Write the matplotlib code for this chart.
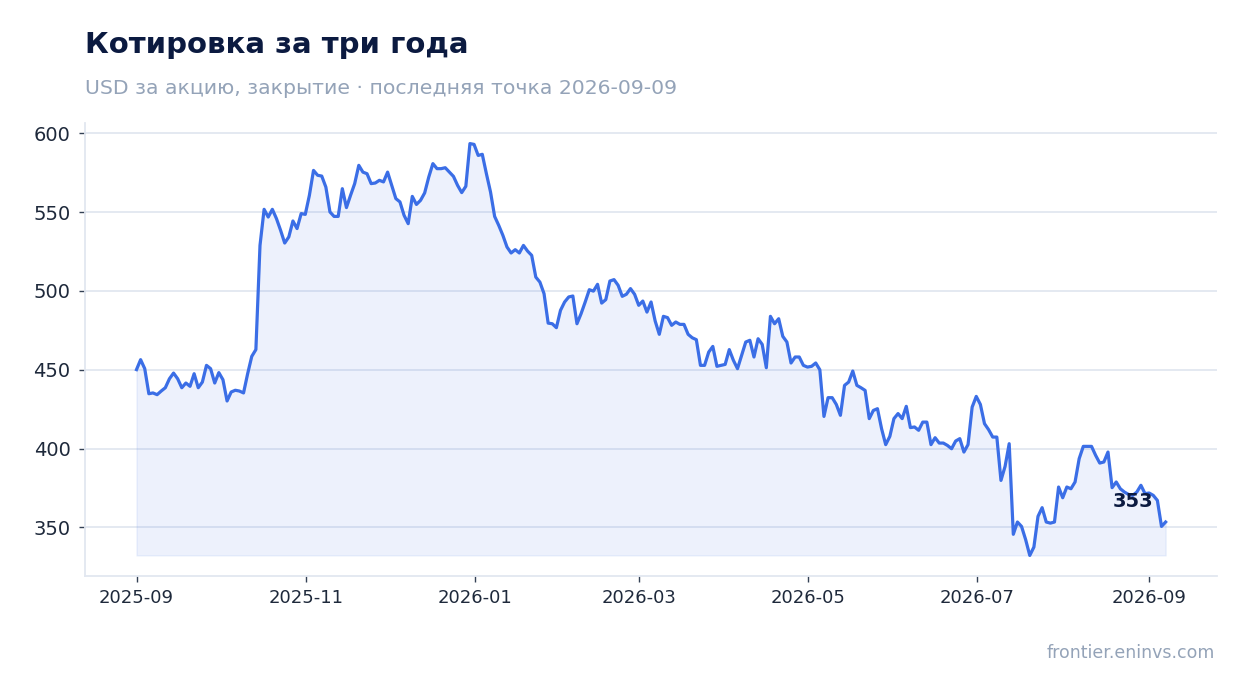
import matplotlib
matplotlib.use("Agg")
import matplotlib.pyplot as plt
import matplotlib.dates as mdates
import pandas as pd
import numpy as np

plt.rcParams['font.family'] = ['DejaVu Sans']

title = "Котировка за три года"
subtitle = "USD за акцию, закрытие · последняя точка 2026-09-09"
footer = "frontier.eninvs.com"

start_date = "2025-09-01"
end_date = "2026-09-07"

prices = [
    450.1, 456.4, 450.7, 434.8, 435.3, 434.2, 436.5, 438.6, 444.3, 447.9,
    444.3, 438.6, 441.6, 439.5, 447.5, 438.6, 442.2, 452.8, 450.7, 441.6,
    448.2, 443.7, 430.2, 435.9, 437.0, 436.5, 435.3, 447.5, 458.5, 462.8,
    528.9, 551.8, 546.9, 551.8, 545.9, 538.5, 530.4, 534.3, 544.4, 539.6,
    549.1, 548.6, 560.7, 576.5, 573.4, 572.9, 565.9, 550.1, 547.3, 547.3,
    564.9, 552.9, 560.7, 568.1, 579.7, 575.4, 574.4, 568.1, 568.5, 570.2,
    569.2, 575.4, 567.0, 558.6, 556.5, 548.0, 542.7, 560.0, 554.9, 557.5,
    562.2, 572.3, 580.8, 577.6, 577.6, 578.2, 575.4, 572.7, 567.0, 562.4,
    566.4, 593.5, 593.0, 586.0, 586.7, 574.4, 562.8, 547.3, 541.6, 535.3,
    527.9, 524.1, 526.2, 524.1, 528.9, 525.3, 522.6, 508.8, 505.6, 498.3,
    479.6, 479.2, 476.7, 487.7, 493.0, 496.2, 496.8, 479.2, 485.6, 493.0,
    500.8, 499.9, 504.2,
    492.3, 494.5, 506.3, 507.2, 503.6, 496.6, 497.9, 501.5, 497.9, 490.9,
    493.6, 486.6, 493.0, 480.9, 472.5, 483.9, 483.1, 478.2, 480.3, 478.8,
    478.8, 472.5, 470.3, 469.1, 452.8, 452.8, 461.2, 464.8, 452.2, 452.8,
    453.4, 462.8, 456.0, 450.7, 459.1, 467.6, 468.7, 458.1, 469.7, 466.1,
    451.3, 483.9, 479.2, 482.4, 471.2, 467.6,
    454.3, 458.1, 458.1, 452.8, 451.7, 452.2, 454.3, 450.0, 420.4, 432.3,
    432.3, 428.0, 421.1, 440.1, 442.2, 449.2, 440.1, 438.6, 436.9, 419.0,
    424.2, 425.3, 412.6, 402.5, 407.7, 419.0, 422.2, 419.0, 426.8, 413.3,
    413.7, 411.6, 416.8, 416.8, 402.5, 406.9, 403.5, 403.5, 402.0, 399.9,
    404.8, 406.3, 397.8, 402.5, 426.3, 433.1, 428.0,
    415.8, 412.0, 407.3, 407.3, 379.8, 388.7, 403.1, 345.6, 353.4, 350.6,
    342.2, 332.2, 337.5, 357.0, 362.5, 353.4, 352.7, 353.4, 375.6, 368.8,
    375.6, 374.5, 378.8, 393.6, 401.4, 401.4, 401.4, 395.7, 390.8, 391.5,
    397.8, 375.2, 378.8, 374.5, 372.4, 370.9, 370.3, 372.4, 376.7, 371.4,
    371.8, 370.3, 367.1, 350.6, 353.4,
]

dates = pd.date_range(start_date, end_date, periods=len(prices))
values = np.array(prices)

line_color = "#3b6ee6"
navy = "#0b1a40"
gray = "#94a3b8"
grid_color = "#e2e7f0"

fig = plt.figure(figsize=(12.47, 6.93), dpi=100)
ax = fig.add_axes([0.0682, 0.1688, 0.9078, 0.6537])

ax.fill_between(dates, values, values.min(), color=line_color, alpha=0.09, linewidth=1)
ax.plot(dates, values, color=line_color, linewidth=2.3, solid_joinstyle='round')

ax.xaxis.set_major_locator(mdates.MonthLocator(bymonth=[1, 3, 5, 7, 9, 11]))
ax.xaxis.set_major_formatter(mdates.DateFormatter("%Y-%m"))
ax.set_yticks([350, 400, 450, 500, 550, 600])

ax.grid(axis='y', color=grid_color, linewidth=1.3)
ax.set_axisbelow(True)
for side in ['top', 'right']:
    ax.spines[side].set_visible(False)
for side in ['left', 'bottom']:
    ax.spines[side].set_color(grid_color)
    ax.spines[side].set_linewidth(1.3)

ax.tick_params(axis='x', labelsize=13, colors='#1e293b', length=4, width=1, pad=5.5)
ax.tick_params(axis='y', labelsize=14, colors='#1e293b', length=4, width=1, pad=6.5)
ax.tick_params(axis='both', color='#334155')

ax.annotate(f"{values[-1]:.0f}", xy=(dates[-1], values[-1]), xytext=(-9, 15),
            textcoords='offset points', ha='right', va='center',
            fontsize=14, fontweight='bold', color=navy)

fig.text(0.0682, 0.9235, title, fontsize=21, fontweight='bold', color=navy,
         ha='left', va='baseline')
fig.text(0.0682, 0.8644, subtitle, fontsize=14.7, color=gray, ha='left', va='baseline')
fig.text(0.9745, 0.0505, footer, fontsize=12.5, color=gray, ha='right', va='baseline')

fig.savefig("out.png", dpi=100)
